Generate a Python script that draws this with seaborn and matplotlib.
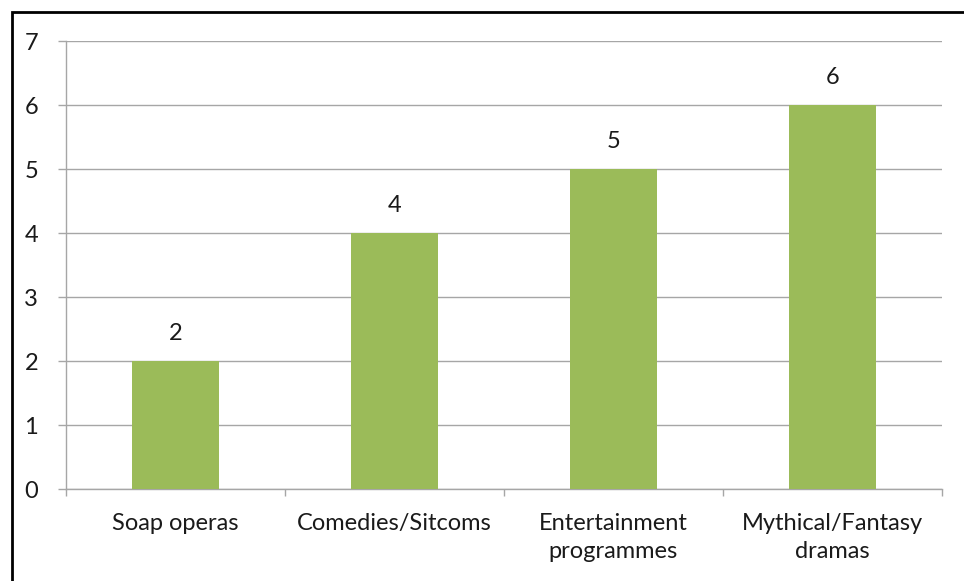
import matplotlib
matplotlib.use("Agg")
import matplotlib.pyplot as plt
import matplotlib.patches as mpatches
from matplotlib.ticker import FixedLocator
import seaborn as sns
import pandas as pd

categories = ["Soap operas", "Comedies/Sitcoms", "Entertainment\nprogrammes", "Mythical/Fantasy\ndramas"]
values = [2, 4, 5, 6]
y_ticks = [0, 1, 2, 3, 4, 5, 6, 7]

sns.set_style("white")
plt.rcParams["font.family"] = ["Lato", "DejaVu Sans"]

df = pd.DataFrame({"category": categories, "value": values})

fig = plt.figure(figsize=(9.64, 5.81), dpi=100)
ax = fig.add_axes([66 / 964, 1 - 489 / 581, (942 - 66) / 964, (489 - 41) / 581])

sns.barplot(data=df, x="category", y="value", color="#9BBB59", width=0.4,
            saturation=1, linewidth=0, ax=ax, zorder=3)

ax.set_ylim(0, 7)
ax.set_xlim(-0.5, len(categories) - 0.5)
ax.set_yticks(y_ticks)
ax.yaxis.grid(True, color="#A6A6A6", linewidth=1.0, zorder=0)
ax.set_axisbelow(True)
ax.set_xlabel("")
ax.set_ylabel("")

for s in ["top", "right"]:
    ax.spines[s].set_visible(False)
for s in ["left", "bottom"]:
    ax.spines[s].set_color("#A6A6A6")
    ax.spines[s].set_linewidth(1.0)

ax.tick_params(axis="y", which="major", left=True, length=6, width=1.0,
               color="#A6A6A6", pad=14, labelsize=17, labelcolor="#1a1a1a")
ax.tick_params(axis="x", which="major", length=0, pad=17, labelsize=17,
               labelcolor="#1a1a1a")
for lbl in ax.get_xticklabels():
    lbl.set_linespacing(1.45)
ax.xaxis.set_minor_locator(FixedLocator([i - 0.5 for i in range(len(categories) + 1)]))
ax.tick_params(axis="x", which="minor", bottom=True, length=5, width=1.0,
               color="#A6A6A6")

for i, v in enumerate(values):
    ax.annotate(str(v), xy=(i, v), xytext=(0, 12), textcoords="offset points",
                ha="center", va="bottom", fontsize=17, color="#1a1a1a")

# outer frame
frame = mpatches.Rectangle((12 / 964, -0.1), 1.2, 1 - 12 / 581 + 0.1,
                           transform=fig.transFigure, fill=False,
                           edgecolor="black", linewidth=2, clip_on=False)
fig.patches.append(frame)

fig.savefig("out.png", dpi=100)
